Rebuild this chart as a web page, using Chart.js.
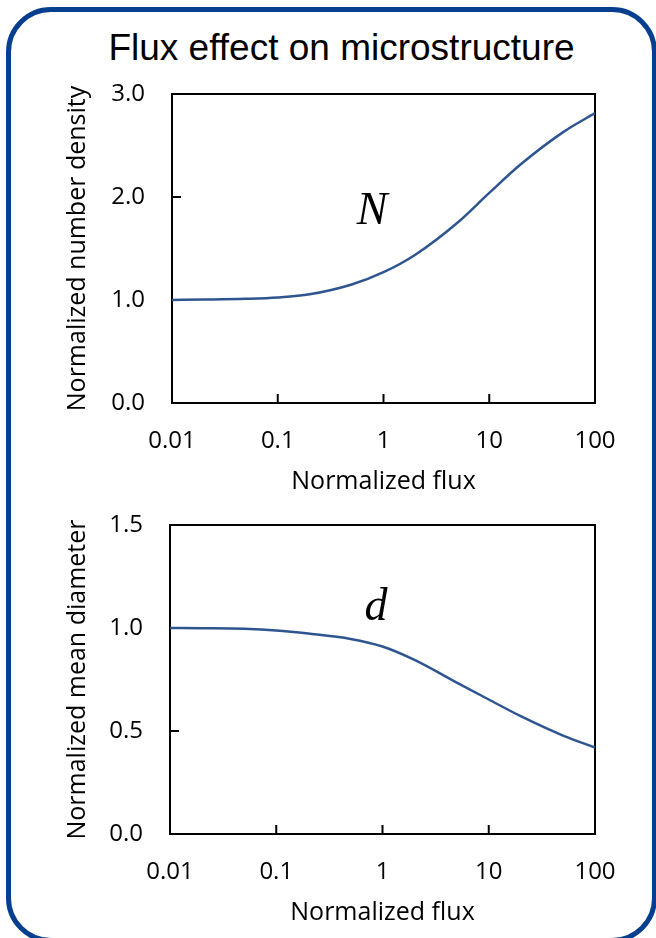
<!DOCTYPE html>
<html>
<head>
<meta charset="utf-8">
<script src="https://cdn.jsdelivr.net/npm/chart.js@4.4.1/dist/chart.umd.min.js"></script>
<style>
  html, body { margin: 0; padding: 0; background: #fff; }
  body { width: 656px; height: 938px; overflow: hidden; position: relative; }
  #frame {
    position: absolute; left: 6px; top: 7px; width: 651px; height: 936px;
    box-sizing: border-box; border: 5px solid #073f8f; border-radius: 45px;
  }
  #title {
    position: absolute; left: 0; top: 29px; width: 683px; text-align: center;
    font: 37px/37px "Liberation Sans", Arial, sans-serif; color: #000;
  }
  canvas { position: absolute; left: 0; }
  #numberChart { top: 60px; }
  #diameterChart { top: 488px; }
</style>
</head>
<body>
<div id="frame"></div>
<div id="title">Flux effect on microstructure</div>
<canvas id="numberChart" width="656" height="450"></canvas>
<canvas id="diameterChart" width="656" height="450"></canvas>
<script>
// values
const flux = [0.01, 0.02, 0.05, 0.1, 0.2, 0.5, 1, 2, 5, 10, 20, 50, 100];
const numberDensity = [1.000, 1.004, 1.012, 1.025, 1.055, 1.15, 1.27, 1.44, 1.75, 2.04, 2.32, 2.63, 2.815];
const meanDiameter = [1.000, 0.999, 0.996, 0.988, 0.973, 0.947, 0.91, 0.845, 0.735, 0.653, 0.572, 0.478, 0.42];

const fluxTicks = [0.01, 0.1, 1, 10, 100];
const numberTicks = [0, 1, 2, 3];
const diameterTicks = [0, 0.5, 1, 1.5];

Chart.defaults.font.family = '"Open Sans", sans-serif';
Chart.defaults.color = '#000';

// box round the plot, inward ticks, italic symbol
const frameTicks = {
  id: 'frameTicks',
  beforeDatasetsDraw(chart) {
    const {ctx, chartArea: a, scales: {x, y}} = chart;
    ctx.save();
    ctx.strokeStyle = '#000';
    ctx.lineWidth = 2;
    ctx.strokeRect(a.left, a.top, a.width, a.height);
    ctx.beginPath();
    x.ticks.forEach(t => {
      if (t.value > x.min && t.value < x.max) {
        const px = x.getPixelForValue(t.value);
        ctx.moveTo(px, a.bottom);
        ctx.lineTo(px, a.bottom - 9);
      }
    });
    y.ticks.forEach(t => {
      if (t.value > y.min && t.value < y.max) {
        const py = y.getPixelForValue(t.value);
        ctx.moveTo(a.left, py);
        ctx.lineTo(a.left + 9, py);
      }
    });
    ctx.stroke();
    ctx.restore();
  },
  afterDatasetsDraw(chart, args, opts) {
    const {ctx, scales: {x, y}} = chart;
    ctx.save();
    ctx.font = 'italic 46px "Liberation Serif", serif';
    ctx.fillStyle = '#000';
    ctx.textAlign = 'center';
    ctx.textBaseline = 'alphabetic';
    ctx.fillText(opts.text, x.getPixelForValue(opts.x), y.getPixelForValue(opts.y));
    ctx.restore();
  }
};

function makeChart(id, values, yTicks, yMax, yTitle, opt) {
  return new Chart(document.getElementById(id), {
    type: 'line',
    data: {
      labels: flux,
      datasets: [{
        data: values,
        borderColor: '#2f5590',
        borderWidth: 2.5,
        pointRadius: 0,
        cubicInterpolationMode: 'monotone',
        fill: false
      }]
    },
    options: {
      responsive: false,
      animation: false,
      events: [],
      layout: { padding: { left: 0, right: 61, top: opt.top, bottom: 0 } },
      plugins: {
        legend: { display: false },
        tooltip: { enabled: false },
        frameTicks: opt.note
      },
      scales: {
        x: {
          type: 'logarithmic',
          min: 0.01,
          max: 100,
          afterBuildTicks: s => { s.ticks = fluxTicks.map(v => ({ value: v })); },
          afterFit: s => { s.height = opt.xHeight; },
          grid: { display: false, drawTicks: false },
          border: { display: false },
          ticks: {
            padding: 24,
            maxRotation: 0,
            font: { size: 24 },
            callback: v => String(v)
          },
          title: {
            display: true,
            text: 'Normalized flux',
            font: { size: 25 },
            padding: { top: 0, bottom: opt.xTitlePad }
          }
        },
        y: {
          min: 0,
          max: yMax,
          afterBuildTicks: s => { s.ticks = yTicks.map(v => ({ value: v })); },
          afterFit: s => {
            s.width = opt.yWidth;
            s.paddingTop = 0;
            s.paddingBottom = 0;
          },
          grid: { display: false, drawTicks: false },
          border: { display: false },
          ticks: {
            padding: 27,
            font: { size: 24 },
            callback: v => Number(v).toFixed(1)
          },
          title: {
            display: true,
            text: yTitle,
            font: { size: 25 },
            padding: { top: 63, bottom: 0 }
          }
        }
      }
    },
    plugins: [frameTicks]
  });
}

makeChart('numberChart', numberDensity, numberTicks, 3, 'Normalized number density',
  { top: 34, xHeight: 107, yWidth: 172, xTitlePad: 13, note: { text: 'N', x: 0.78, y: 1.74 } });

makeChart('diameterChart', meanDiameter, diameterTicks, 1.5, 'Normalized mean diameter',
  { top: 37, xHeight: 104, yWidth: 170, xTitlePad: 10, note: { text: 'd', x: 0.87, y: 1.04 } });
</script>
</body>
</html>
